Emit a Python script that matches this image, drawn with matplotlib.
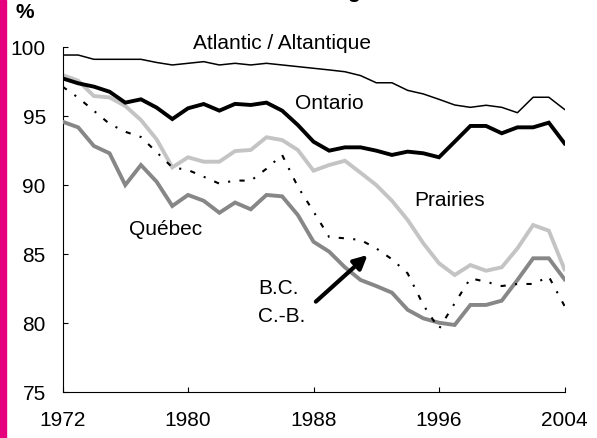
import matplotlib
matplotlib.use('Agg')
import matplotlib.pyplot as plt
from matplotlib.patches import Rectangle
import numpy as np

plt.rcParams['font.family'] = ['Liberation Sans', 'DejaVu Sans']

# years 1972-2004, share in %
years = np.arange(1972, 2005)

atlantic = [99.44, 99.44, 99.13, 99.13, 99.13, 99.13, 98.9, 98.72, 98.84, 98.96, 98.72, 98.84,
            98.72, 98.84, 98.72, 98.6, 98.48, 98.36, 98.23, 97.95, 97.43, 97.43, 96.88,
            96.62, 96.23, 95.82, 95.65, 95.8, 95.65, 95.26, 96.38, 96.38, 95.5]
ontario = [97.75, 97.39, 97.15, 96.78, 95.99, 96.23, 95.63, 94.8, 95.58, 95.89, 95.41, 95.9,
           95.82, 95.99, 95.41, 94.37, 93.16, 92.51, 92.75, 92.75, 92.51, 92.2, 92.44,
           92.32, 92.03, 93.16, 94.3, 94.3, 93.77, 94.2, 94.2, 94.54, 93.04]
prairies = [97.99, 97.58, 96.47, 96.37, 95.75, 94.73, 93.33, 91.3, 92.03, 91.71, 91.71, 92.48,
            92.56, 93.48, 93.28, 92.56, 91.06, 91.47, 91.78, 90.91, 90.02, 88.88, 87.49,
            85.8, 84.35, 83.5, 84.22, 83.81, 84.06, 85.43, 87.12, 86.71, 83.91]
quebec = [94.61, 94.2, 92.85, 92.32, 90.02, 91.47, 90.26, 88.5, 89.3, 88.88, 88.01, 88.75,
          88.26, 89.3, 89.2, 87.85, 85.91, 85.19, 84.06, 83.14, 82.7, 82.22, 80.98,
          80.36, 80.04, 79.88, 81.33, 81.33, 81.64, 83.14, 84.71, 84.71, 83.19]
bc = [97.15, 96.35, 95.4, 94.45, 93.88, 93.5, 92.4, 91.3, 91.11, 90.62, 90.12, 90.35,
      90.33, 91.2, 92.2, 89.9, 88.1, 86.25, 86.16, 86.04, 85.43, 84.64, 83.62,
      81.33, 79.6, 81.45, 83.26, 83.01, 82.7, 82.85, 82.85, 83.38, 81.26]

yticks = [75, 80, 85, 90, 95, 100]
xticks = [1972, 1980, 1988, 1996, 2004]

fig = plt.figure(figsize=(5.97, 4.38), dpi=100)
ax = fig.add_axes([62.5 / 597, 45.7 / 438, 502 / 597, 345 / 438])

# pink strip on the left edge
fig.patches.append(Rectangle((0, 0), 6 / 597, 1, transform=fig.transFigure,
                             color='#e6007e', zorder=0))

ax.plot(years, prairies, color='#c4c4c4', lw=2.8, solid_joinstyle='miter', zorder=2)
ax.plot(years, quebec, color='#878787', lw=2.8, solid_joinstyle='miter', zorder=3)
ax.plot(years, atlantic, color='black', lw=1.1, zorder=4)
ax.plot(years, ontario, color='black', lw=2.8, solid_joinstyle='miter', zorder=5)
ax.plot(years, bc, color='black', lw=1.5, linestyle=(0, (2.5, 4.5, 1, 4.5)), zorder=6)

ax.set_xlim(1972, 2004)
ax.set_ylim(75, 100)
ax.set_xticks(xticks)
ax.set_yticks(yticks)
ax.tick_params(axis='both', direction='in', labelsize=15, length=3.5, width=0.8)
ax.tick_params(axis='y', pad=12)
ax.tick_params(axis='x', pad=13.5)
for s in ['top', 'right']:
    ax.spines[s].set_visible(False)
for s in ['left', 'bottom']:
    ax.spines[s].set_linewidth(0.8)

# series labels
ax.text(1986.0, 100.24, 'Atlantic / Altantique', fontsize=15, ha='center', va='center')
ax.text(1989.0, 95.93, 'Ontario', fontsize=15, ha='center', va='center')
ax.text(1996.7, 88.93, 'Prairies', fontsize=15, ha='center', va='center')
ax.text(1978.6, 86.83, 'Québec', fontsize=15, ha='center', va='center')
ax.text(1984.45, 82.54, 'B.C.', fontsize=15, ha='left', va='center')
ax.text(1984.45, 80.48, 'C.-B.', fontsize=15, ha='left', va='center')
ax.annotate('', xy=(1991.45, 84.95), xytext=(1988.15, 81.57),
            arrowprops=dict(arrowstyle='-|>', color='black', lw=3,
                            mutation_scale=20, shrinkA=0, shrinkB=0))

fig.text(24.5 / 597, 1 - 12 / 438, '%', fontsize=15, fontweight='bold',
         ha='center', va='center')
# bottom of the cut-off title, as in the source image
fig.text(353 / 597, 1 + 2.5 / 438, 'g', fontsize=15, fontweight='bold',
         ha='center', va='baseline')

fig.savefig('out.png', dpi=100)
